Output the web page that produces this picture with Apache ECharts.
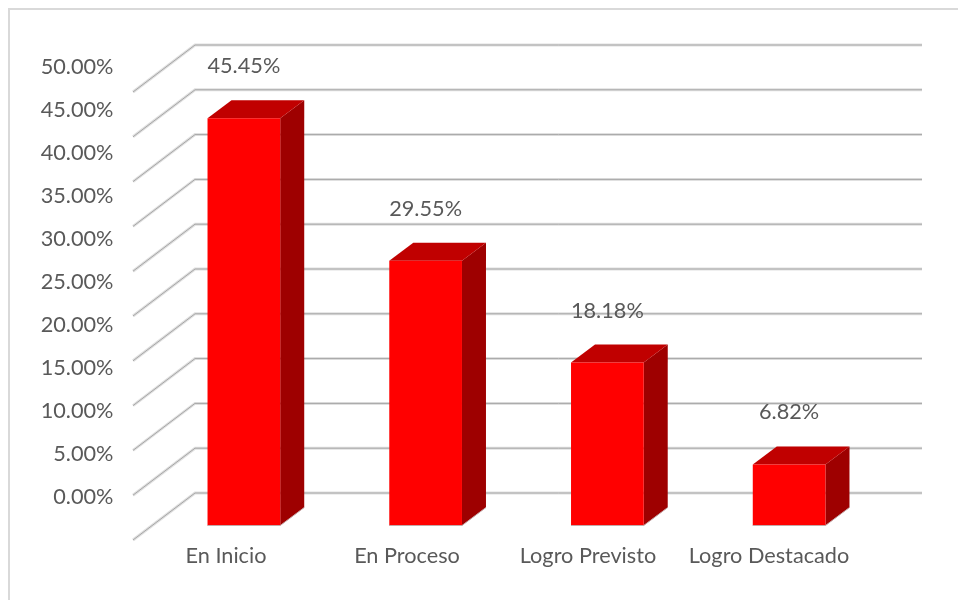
<!DOCTYPE html>
<html>
<head>
<meta charset="utf-8">
<style>html,body{margin:0;padding:0;background:#fff}#chart{width:958px;height:600px}</style>
<script src="https://cdn.jsdelivr.net/npm/echarts@6/dist/echarts.min.js"></script>
</head>
<body>
<div id="chart"></div>
<script>
const categories = ['En Inicio', 'En Proceso', 'Logro Previsto', 'Logro Destacado'];
const percentages = [45.45, 29.55, 18.18, 6.82];
const tickValues = [0, 5, 10, 15, 20, 25, 30, 35, 40, 45, 50];

const textColor = '#595959';
const fontFamily = 'Lato';
const fontSize = 21.7;

// Oblique projection of the chart box: wall-to-front run of the floor, and the bar's own depth
const wall = { dx: -62, dy: 47 };
const barFront = { dx: -42, dy: 32.5 };
const barDepth = { dx: 24, dy: -18 };
const labelGap = 52;

function renderGridline(params, api) {
  const y = api.coord([0, api.value(1)])[1];
  const x0 = params.coordSys.x;
  const x1 = x0 + params.coordSys.width;
  const points = [[x0 + wall.dx, y + wall.dy], [x0, y], [x1, y]];
  return {
    type: 'group',
    children: [
      { type: 'polyline', shape: { points: points }, style: { fill: 'none', stroke: '#e0e0e0', lineWidth: 3 } },
      { type: 'polyline', shape: { points: points }, style: { fill: 'none', stroke: '#a6a6a6', lineWidth: 1 } }
    ]
  };
}

function renderBar(params, api) {
  const idx = api.value(0);
  const value = api.value(1);
  const base = api.coord([idx, 0]);
  const top = api.coord([idx, value]);
  const halfWidth = api.size([1, 0])[0] * 0.2;
  const l = base[0] + barFront.dx - halfWidth;
  const r = base[0] + barFront.dx + halfWidth;
  const b = base[1] + barFront.dy;
  const t = top[1] + barFront.dy;
  const dx = barDepth.dx, dy = barDepth.dy;
  return {
    type: 'group',
    children: [
      { type: 'polygon', shape: { points: [[r, t], [r + dx, t + dy], [r + dx, b + dy], [r, b]] },
        style: { fill: '#9e0000' } },
      { type: 'polygon', shape: { points: [[l, t], [l + dx, t + dy], [r + dx, t + dy], [r, t]] },
        style: { fill: '#c00000' } },
      { type: 'rect', shape: { x: l, y: t, width: r - l, height: b - t },
        style: { fill: '#ff0000' } },
      { type: 'polyline', shape: { points: [[l, b], [r, b], [r + dx, b + dy]] },
        style: { fill: 'none', stroke: '#c4a8a8', lineWidth: 1 } },
      { type: 'text', style: {
          x: (l + r) / 2, y: t - labelGap,
          text: value.toFixed(2) + '%',
          fill: textColor, font: fontSize + 'px "' + fontFamily + '"',
          align: 'center', verticalAlign: 'middle'
        } }
    ]
  };
}

const chart = echarts.init(document.getElementById('chart'), null, { renderer: 'canvas' });
chart.setOption({
  animation: false,
  backgroundColor: '#ffffff',
  graphic: [{
    type: 'rect', silent: true,
    shape: { x: 9, y: 9, width: 1200, height: 1200 },
    style: { fill: 'none', stroke: '#d9d9d9', lineWidth: 2 }
  }],
  grid: [
    // back wall: carries the gridlines and the bars
    { left: 195, top: 45, width: 727, height: 448 },
    // front plane: carries the tick labels
    { left: 135.5, top: 67, width: 724, height: 430.5 }
  ],
  xAxis: [
    { gridIndex: 0, type: 'category', data: categories, show: false },
    { gridIndex: 1, type: 'category', data: categories,
      axisLine: { show: false }, axisTick: { show: false },
      axisLabel: { color: textColor, fontFamily: fontFamily, fontSize: fontSize, margin: 48, interval: 0 } }
  ],
  yAxis: [
    { gridIndex: 0, type: 'value', min: 0, max: 50, interval: 5, show: false },
    { gridIndex: 1, type: 'value', min: 0, max: 50, interval: 5,
      axisLine: { show: false }, axisTick: { show: false }, splitLine: { show: false },
      axisLabel: { color: textColor, fontFamily: fontFamily, fontSize: fontSize, margin: 22,
        formatter: function (v) { return v.toFixed(2) + '%'; } } }
  ],
  series: [
    { type: 'custom', xAxisIndex: 0, yAxisIndex: 0, silent: true, z: 1, clip: false,
      renderItem: renderGridline,
      data: tickValues.map(function (v) { return [0, v]; }) },
    { type: 'custom', xAxisIndex: 0, yAxisIndex: 0, silent: true, z: 2, clip: false,
      renderItem: renderBar,
      data: percentages.map(function (v, i) { return [i, v]; }) }
  ]
});
</script>
</body>
</html>
